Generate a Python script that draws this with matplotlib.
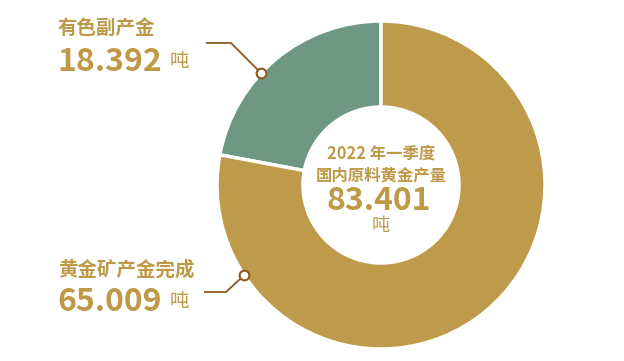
import matplotlib.pyplot as plt
import numpy as np

plt.rcParams['font.family'] = ['Noto Sans CJK SC', 'DejaVu Sans']

LABELS = ["有色副产金", "黄金矿产金完成"]
VALUES = [18.392, 65.009]
COLORS = ["#6E9883", "#BE9B4A"]
CENTER_TITLE = ["2022 年一季度", "国内原料黄金产量"]
UNIT = "吨"

TEXT_COLOR = "#BE9A48"
LINE_COLOR = "#8A5A22"

W, H = 624, 361
CX, CY = 381, H - 185
R_OUT, R_IN = 164, 78

fig = plt.figure(figsize=(W / 100, H / 100), dpi=100)
ax = fig.add_axes([0, 0, 1, 1])

ax.pie(VALUES, colors=COLORS, startangle=90, counterclock=True,
       center=(CX, CY), radius=R_OUT, frame=True,
       wedgeprops=dict(width=R_OUT - R_IN, edgecolor="white", linewidth=2.5))
ax.set_xlim(0, W)
ax.set_ylim(0, H)
ax.set_aspect("equal")
ax.axis("off")

# leader lines: (angle of dot on ring, elbow, end) in pixel coords
leaders = [
    (137.0, (231, 43), (207, 43)),
    (213.4, (226, 292), (205, 292)),
]
for ang, elbow, end in leaders:
    a = np.deg2rad(ang)
    dx, dy = CX + R_OUT * np.cos(a), CY + R_OUT * np.sin(a)
    ax.plot([dx, elbow[0], end[0]], [dy, H - elbow[1], H - end[1]],
            color=LINE_COLOR, lw=1.3, zorder=5)
    ax.plot(dx, dy, "o", ms=7, mfc="white", mec=LINE_COLOR, mew=1.5, zorder=6)

# side labels
label_pos = [(58, 28, 62), (58, 270, 302)]
for (x, y1, y2), name, val in zip(label_pos, LABELS, VALUES):
    ax.text(x, H - y1, name, fontsize=14, fontweight="bold", color=TEXT_COLOR,
            ha="left", va="center")
    t = ax.text(x - 1, H - y2, f"{val:.3f}", fontsize=23, fontweight="bold",
                color=TEXT_COLOR, ha="left", va="center")
    fig.canvas.draw()
    bb = t.get_window_extent().transformed(ax.transData.inverted())
    ax.text(bb.x1 + 8, H - y2 + 1, UNIT, fontsize=14, color=TEXT_COLOR,
            ha="left", va="center")

# center text
ax.text(CX, H - 154, CENTER_TITLE[0], fontsize=11.8, fontweight="bold",
        color=TEXT_COLOR, ha="center", va="center")
ax.text(CX, H - 176, CENTER_TITLE[1], fontsize=11.8, fontweight="bold",
        color=TEXT_COLOR, ha="center", va="center")
ax.text(CX - 2, H - 201, f"{sum(VALUES):.3f}", fontsize=23, fontweight="bold",
        color=TEXT_COLOR, ha="center", va="center")
ax.text(CX, H - 226, UNIT, fontsize=13, color=TEXT_COLOR,
        ha="center", va="center")

fig.savefig("out.png", dpi=100, facecolor="white")
